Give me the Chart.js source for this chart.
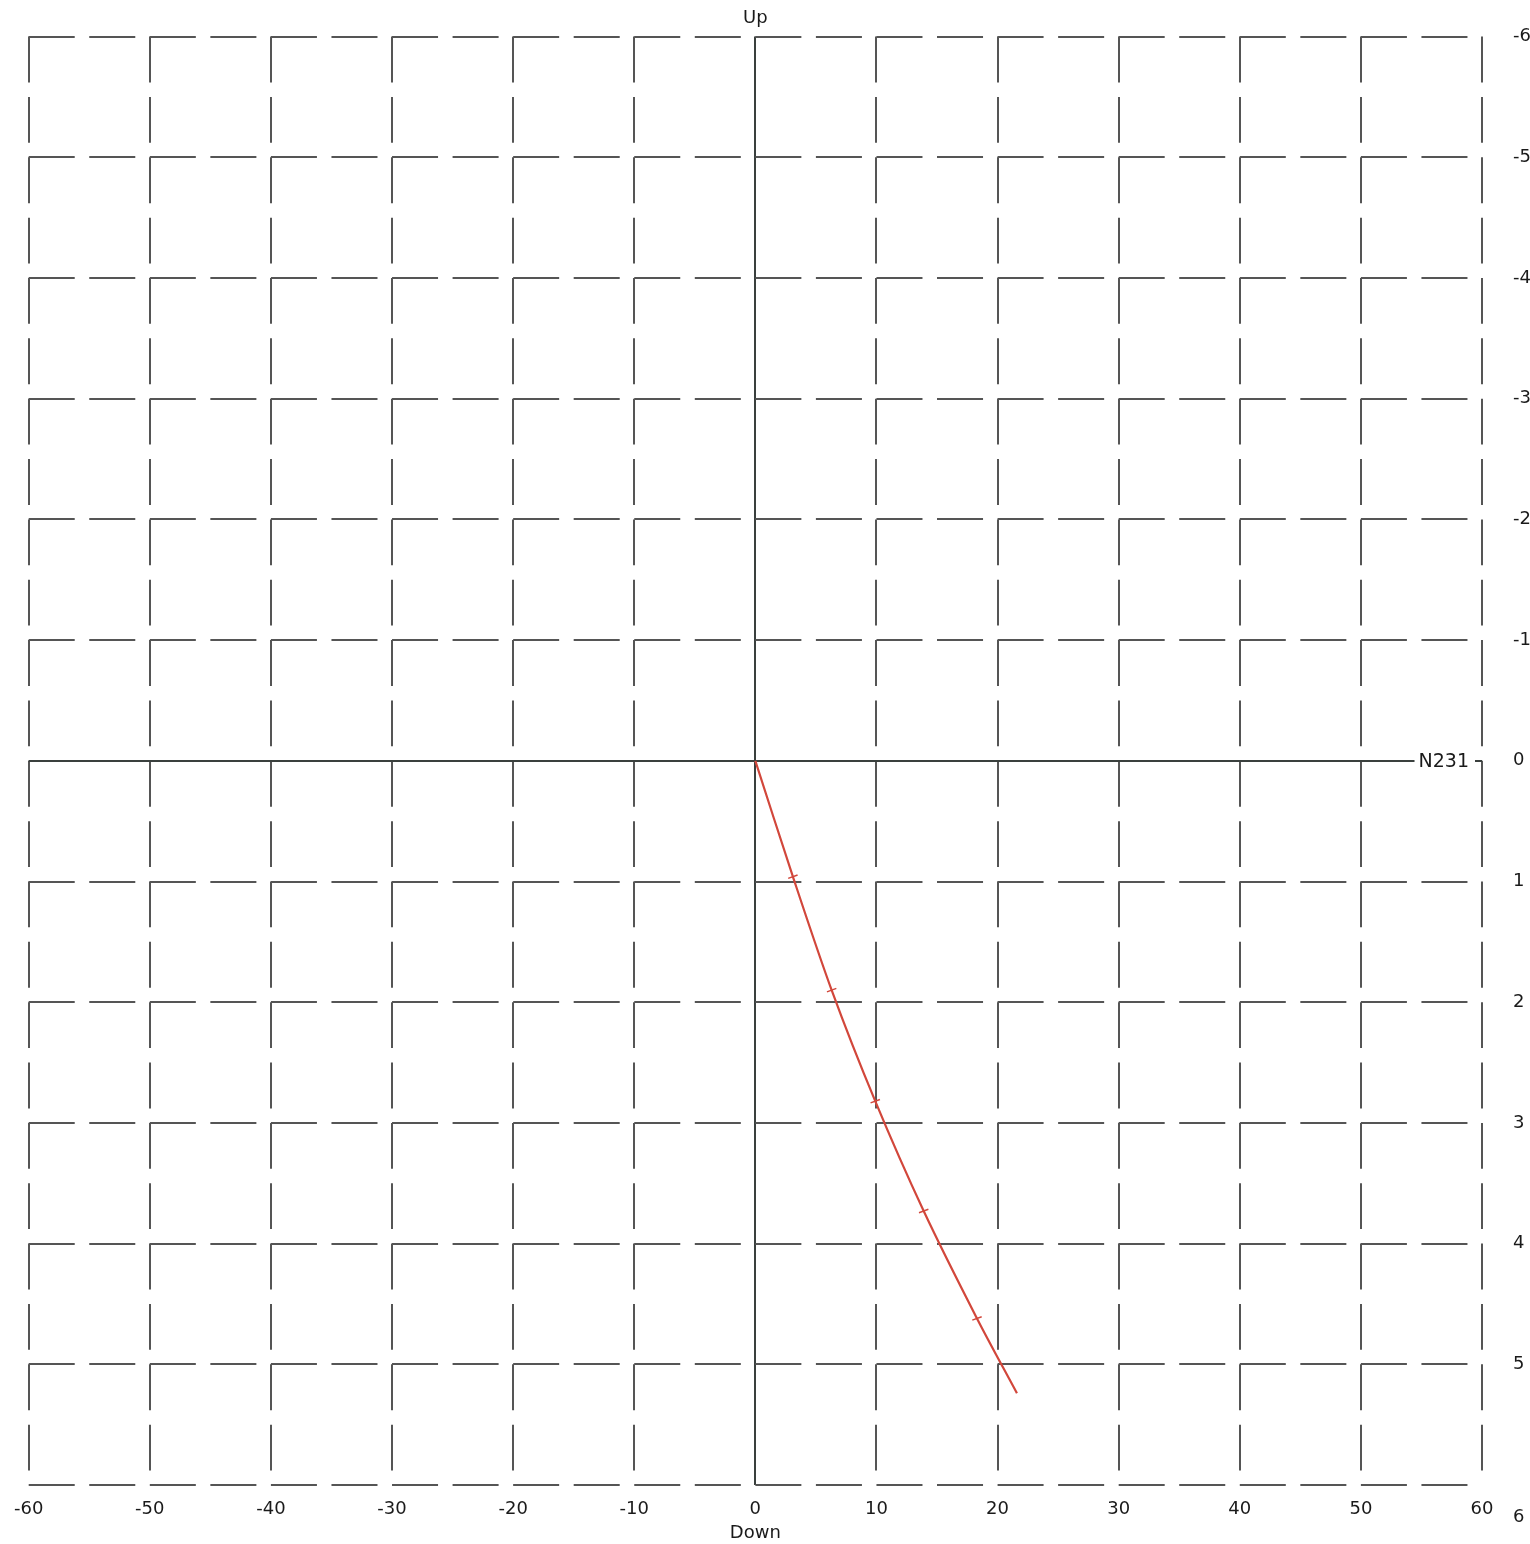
<!DOCTYPE html>
<html>
<head>
<meta charset="utf-8">
<script src="https://cdn.jsdelivr.net/npm/chart.js@4"></script>
<style>
  html, body { margin: 0; padding: 0; background: #fff; overflow: hidden; }
  #wrap { width: 1545px; height: 1544px; }
</style>
</head>
<body>
<div id="wrap"><canvas id="myChart" width="1545" height="1544"></canvas></div>
<script>
// well path, offset (x) vs depth (y)
var offsetX = [0, 3.1, 6.3, 9.9, 13.9, 18.3, 21.6];
var depthY = [0, 0.96, 1.9, 2.82, 3.73, 4.62, 5.24];
var markerSize = [0, 5, 5, 5, 5, 5, 0];

var xMin = -60, xMax = 60, xStep = 10;
var yMin = -6, yMax = 6, yStep = 1;

var wellName = "N231";
var topTitle = "Up";
var bottomTitle = "Down";

var points = [];
for (var i = 0; i < offsetX.length; i++) {
  points.push({x: offsetX[i], y: depthY[i]});
}

var gridColor = "#555";
var zeroColor = "#3a403e";
var tickFont = {family: "DejaVu Sans", size: 18};

// two dashes per grid cell, starting at each grid line
function dashX(c) {
  if (c.tick && c.tick.value === 0) return [];
  var p = c.chart.chartArea.height / 12 / 2;
  return [p * 0.76, p * 0.24];
}
function dashY(c) {
  if (c.tick && c.tick.value === 0) return [];
  var p = c.chart.chartArea.width / 12 / 2;
  return [p * 0.76, p * 0.24];
}
function colorFor(c) {
  return (c.tick && c.tick.value === 0) ? zeroColor : gridColor;
}

var labelPlugin = {
  id: 'wellLabel',
  afterDatasetsDraw: function(chart) {
    var ctx = chart.ctx;
    var xs = chart.scales.x, ys = chart.scales.y;
    var right = xs.getPixelForValue(xMax) - 13;
    var yy = ys.getPixelForValue(0);
    ctx.save();
    ctx.font = "19px 'DejaVu Sans'";
    var w = ctx.measureText(wellName).width;
    ctx.fillStyle = "#fff";
    ctx.fillRect(right - w - 4, yy - 10, w + 10, 20);
    ctx.fillStyle = "#1a1a1a";
    ctx.textAlign = "right";
    ctx.textBaseline = "middle";
    ctx.fillText(wellName, right, yy + 1);
    ctx.restore();
  }
};

var ctx = document.getElementById("myChart");
var myChart = new Chart(ctx, {
  type: 'scatter',
  data: {
    datasets: [{
      data: points,
      showLine: true,
      borderColor: "#d2473b",
      borderWidth: 2.2,
      tension: 0.3,
      pointStyle: 'line',
      pointRadius: markerSize,
      pointBorderColor: "#d2473b",
      pointBorderWidth: 1.5,
      pointRotation: -20
    }]
  },
  options: {
    responsive: false,
    animation: false,
    layout: {padding: {left: 24, right: 0, top: 0, bottom: 0}},
    plugins: {
      legend: {display: false},
      tooltip: {enabled: false},
      title: {
        display: true,
        text: topTitle,
        fullSize: false,
        color: "#1a1a1a",
        font: {family: "DejaVu Sans", size: 18, weight: 'normal'},
        padding: {top: 8, bottom: 7}
      }
    },
    scales: {
      x: {
        type: 'linear',
        position: 'bottom',
        min: xMin,
        max: xMax,
        ticks: {stepSize: xStep, color: "#1a1a1a", font: tickFont, padding: 14, maxRotation: 0},
        grid: {color: colorFor, lineWidth: 2, drawTicks: false},
        border: {display: false, dash: dashX},
        title: {display: true, text: bottomTitle, color: "#1a1a1a", font: tickFont, padding: 0},
        afterFit: function(s) { s.height = 59; }
      },
      y: {
        type: 'linear',
        position: 'right',
        reverse: true,
        min: yMin,
        max: yMax,
        ticks: {
          stepSize: yStep, color: "#1a1a1a", font: tickFont, padding: 31,
          callback: function(v) { return v === yMax ? ['', '', '', String(v)] : String(v); }
        },
        grid: {color: colorFor, lineWidth: 2, drawTicks: false},
        border: {display: false, dash: dashY},
        afterFit: function(s) { s.width = 63; s.paddingTop = 0; s.paddingBottom = 0; }
      }
    }
  },
  plugins: [labelPlugin]
});
</script>
</body>
</html>
